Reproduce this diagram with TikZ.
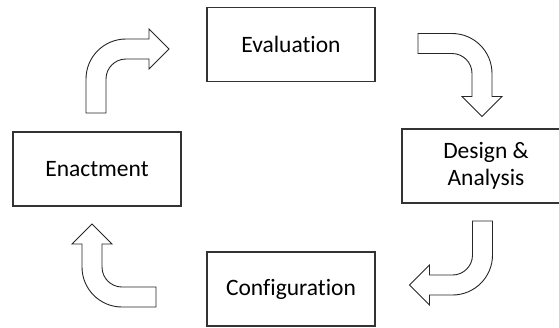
\documentclass[tikz,border=0pt]{standalone}
\usepackage{fontspec}
\setmainfont{Carlito}[Ligatures={NoCommon,NoRequired,NoContextual}]
\begin{document}
\begin{tikzpicture}[x=1bp,y=-1bp,
  stage/.style={draw=black!80,line width=1.3bp,fill=white,minimum width=168bp,
    minimum height=74bp,inner sep=0pt,align=center,
    font=\fontsize{23.5bp}{27bp}\selectfont},
  bendarrow/.pic={
    \draw[draw=black!85,line width=0.9bp,fill=white,line join=miter]
      (-10,0) -- (-10,-34)
      .. controls (-10,-56.1) and (7.9,-74) .. (30,-74)
      -- (53,-74) -- (53,-84) -- (73,-64) -- (53,-44) -- (53,-54) -- (30,-54)
      .. controls (18.95,-54) and (10,-45.05) .. (10,-34)
      -- (10,0) -- cycle;
  }]
  \useasboundingbox (0,0) rectangle (559,327);
  \clip (0,0) rectangle (559,327);

  % the four stages of the cycle
  \node[stage] (eval)   at (291,44.5) {Evaluation};
  \node[stage] (design) at (486,166)  {Design \&\\Analysis};
  \node[stage] (config) at (291,289)  {Configuration};
  \node[stage] (enact)  at (97,169)   {Enactment};

  % bent block arrows between the stages, turning clockwise
  \pic[rotate=0]   at (96,113)    {bendarrow};
  \pic[rotate=-90] at (418,43.5)  {bendarrow};
  \pic[rotate=180] at (482.5,221) {bendarrow};
  \pic[rotate=90]  at (156,297)   {bendarrow};
\end{tikzpicture}
\end{document}
